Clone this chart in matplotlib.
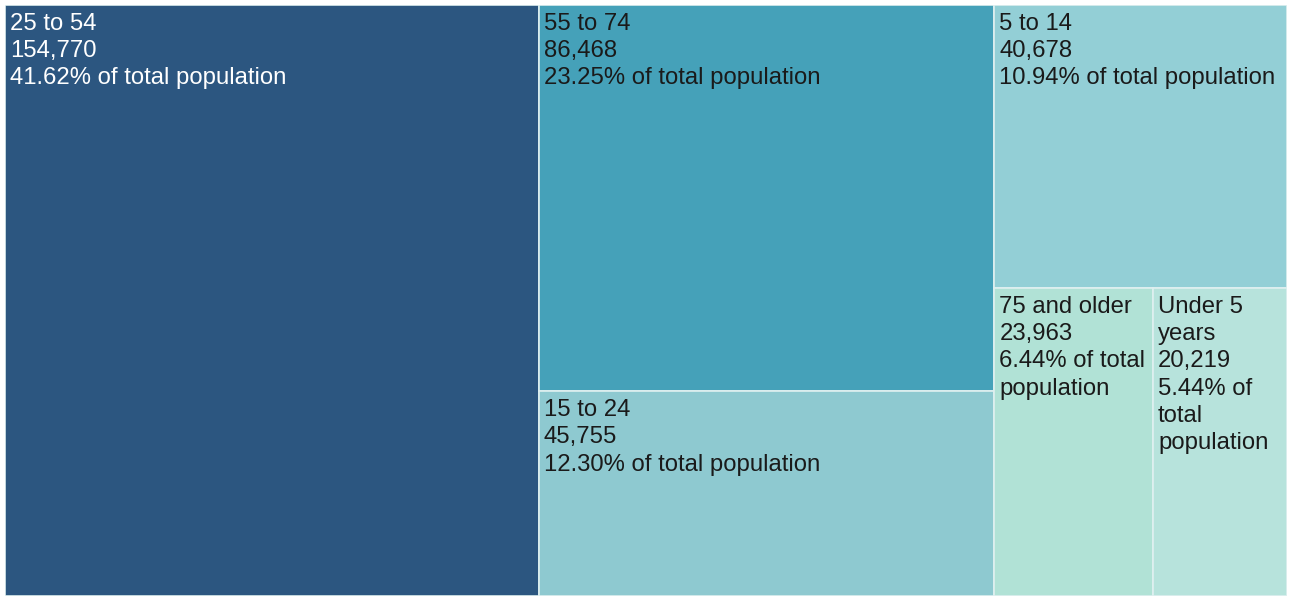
import matplotlib
matplotlib.use("Agg")
import matplotlib.pyplot as plt
from matplotlib.patches import Rectangle

# ---- data ----
categories = ["25 to 54", "55 to 74", "15 to 24", "5 to 14", "75 and older", "Under 5 years"]
values = [154770, 86468, 45755, 40678, 23963, 20219]
colors = ["#2c5680", "#45a1b9", "#8ec9d0", "#93cfd6", "#b1e2d6", "#b7e3dc"]
text_colors = ["white", "#1a1a1a", "#1a1a1a", "#1a1a1a", "#1a1a1a", "#1a1a1a"]
# slice-and-dice structure (indices into the lists above)
layout_tree = ("h", [0, ("v", [1, 2]), ("v", [3, ("h", [4, 5])])])

total = sum(values)

def node_sum(node):
    if isinstance(node, int):
        return values[node]
    return sum(node_sum(c) for c in node[1])

def layout(node, x, y, w, h, out):
    if isinstance(node, int):
        out[node] = (x, y, w, h)
        return
    direction, children = node
    s = node_sum(node)
    pos = 0.0
    for c in children:
        frac = node_sum(c) / s
        if direction == "h":
            layout(c, x + pos * w, y, w * frac, h, out)
        else:
            layout(c, x, y + pos * h, w, h * frac, out)
        pos += frac

rects = {}
layout(layout_tree, 0.0, 0.0, 1.0, 1.0, rects)

W, H = 1289, 596
fig = plt.figure(figsize=(W / 100, H / 100), dpi=100)
left, top, right, bottom = 5, 5, 1287, 596
ax = fig.add_axes([left / W, 1 - bottom / H, (right - left) / W, (bottom - top) / H])
ax.set_xlim(0, 1)
ax.set_ylim(1, 0)
ax.axis("off")

fig.canvas.draw()
renderer = fig.canvas.get_renderer()
FS = 17.2
FONT = "Liberation Sans"
px_per_x = (right - left)
px_per_y = (bottom - top)

def text_width(s):
    t = fig.text(0, 0, s, fontsize=FS, family=FONT)
    bb = t.get_window_extent(renderer=renderer)
    t.remove()
    return bb.width

def wrap(s, maxw):
    words = s.split(" ")
    lines = []
    cur = ""
    for wd in words:
        trial = wd if not cur else cur + " " + wd
        if text_width(trial) <= maxw or not cur:
            cur = trial
        else:
            lines.append(cur)
            cur = wd
    if cur:
        lines.append(cur)
    return lines

pad_x, pad_y = 5, 7.5
for i, cat in enumerate(categories):
    x, y, w, h = rects[i]
    ax.add_patch(Rectangle((x, y), w, h, facecolor=colors[i], edgecolor="#dff0f0",
                           linewidth=1.2))
    pct = values[i] / total * 100
    raw = [cat, f"{values[i]:,}", f"{pct:.2f}% of total population"]
    maxw = w * px_per_x - 2 * pad_x + 2
    lines = []
    for r in raw:
        lines.extend(wrap(r, maxw))
    ax.text(x + pad_x / px_per_x, y + pad_y / px_per_y, "\n".join(lines),
            ha="left", va="top", fontsize=FS, family=FONT, color=text_colors[i],
            linespacing=1.31)

fig.savefig("out.png", dpi=100, facecolor="white")
